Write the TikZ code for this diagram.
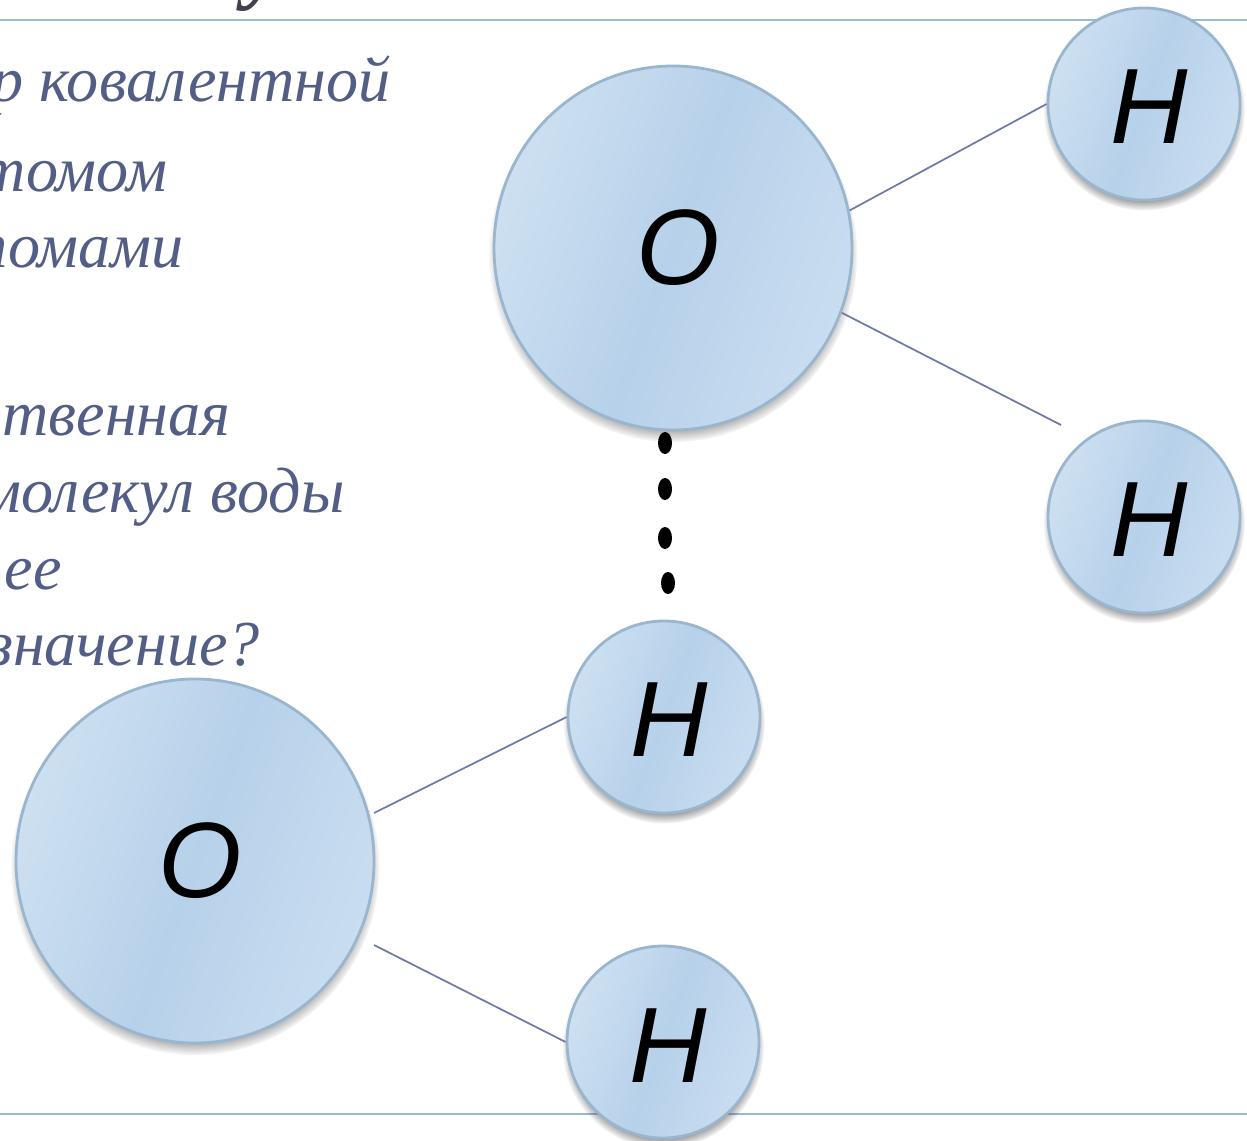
\documentclass[tikz,border=0pt]{standalone}
\usepackage{fontspec}
\setmainfont{Liberation Serif}
\setsansfont{Liberation Sans}
\usetikzlibrary{shadows,shapes.geometric}
\definecolor{ruleblue}{HTML}{9DB7D2}
\definecolor{atomedge}{HTML}{9AB6CF}
\definecolor{atomlight}{HTML}{CDE0F1}
\definecolor{atomright}{HTML}{C9DDF0}
\definecolor{atommid}{HTML}{B7D1EA}
\definecolor{textslate}{HTML}{525E85}
\definecolor{bondslate}{HTML}{6F7BA6}
\definecolor{titledark}{HTML}{404050}

\begin{document}
\begin{tikzpicture}[
    atom/.style={draw=atomedge, line width=1.6pt, inner sep=0pt,
      left color=atomlight, right color=atomright, middle color=atommid, shading angle=70,
      text depth=0cm, execute at begin node=\hspace*{0.2cm},
      font=\sffamily\itshape\fontsize{61}{61}\selectfont},
    bigatom/.style={atom, ellipse, minimum width=7.16cm, minimum height=7.28cm, text height=1.48cm,
      circular drop shadow={shadow xshift=0cm, shadow yshift=-0.13cm, shadow scale=1.03, opacity=0.8, fill=black!85}},
    smallatom/.style={atom, circle, minimum size=3.84cm, text height=1.6cm,
      circular drop shadow={shadow xshift=0cm, shadow yshift=-0.11cm, shadow scale=1.05, opacity=0.65, fill=black!85}},
    bond/.style={draw=bondslate, line width=1pt},
    rulestyle/.style={draw=ruleblue, line width=1.2pt},
    slide/.style={anchor=base east, inner sep=0pt, text=textslate, font=\itshape\fontsize{36.5}{36.5}\selectfont},
    hdot/.style={ellipse, fill=black, inner sep=0pt, minimum width=0.28cm, minimum height=0.44cm}
  ]
  \useasboundingbox (0,0) rectangle (24.94,22.8);
  \clip (0,0) rectangle (24.94,22.8);

  % Rules
  \coordinate (topL) at (0,22.4);
  \coordinate (topR) at (24.94,22.4);
  \coordinate (botL) at (0,0.52);
  \coordinate (botR) at (24.94,0.52);
  \draw[rulestyle] (topL) -- (topR);
  \draw[rulestyle] (botL) -- (botR);

  % Text
  \node[anchor=base, inner sep=0pt, text=titledark, font=\bfseries\itshape\fontsize{50}{50}\selectfont] (title) at (5.3,22.95) {у};
  \node[slide] (line1) at (7.82,20.77) {р ковалентной};
  \node[slide] (line2) at (3.35,18.97) {томом};
  \node[slide] (line3) at (3.68,17.45) {томами};
  \node[slide] (line4) at (4.62,14.09) {твенная};
  \node[slide] (line5) at (6.9,12.55) {молекул воды};
  \node[slide] (line6) at (1.24,11.01) {ее};
  \node[slide] (line7) at (5.2,9.49) {значение?};

  % Atoms
  \node[bigatom] (oxyA) at (13.46,17.84) {O};
  \node[smallatom] (hydA) at (22.88,20.72) {H};
  \node[smallatom] (hydB) at (22.88,12.46) {H};
  \node[smallatom] (hydC) at (13.28,8.46) {H};
  \node[smallatom] (hydD) at (13.26,1.96) {H};
  \node[bigatom] (oxyB) at (3.9,5.58) {O};

  % Dots
  \node[hdot] (dotA) at (13.3,13.94) {};
  \node[hdot] (dotB) at (13.3,13.02) {};
  \node[hdot] (dotC) at (13.3,12.04) {};
  \node[hdot] (dotD) at (13.36,11.14) {};

  % Edges
  \coordinate (bondEnd) at (21.22,14.3);
  \coordinate (bondStartC) at (7.48,6.54);
  \coordinate (bondStartD) at (7.48,3.9);
  \draw[bond] (oxyA.12.5) -- (hydA.west);
  \draw[bond] (oxyA.-21) -- (bondEnd);
  \draw[bond] (bondStartC) -- (hydC.west);
  \draw[bond] (bondStartD) -- (hydD.west);
\end{tikzpicture}
\end{document}
